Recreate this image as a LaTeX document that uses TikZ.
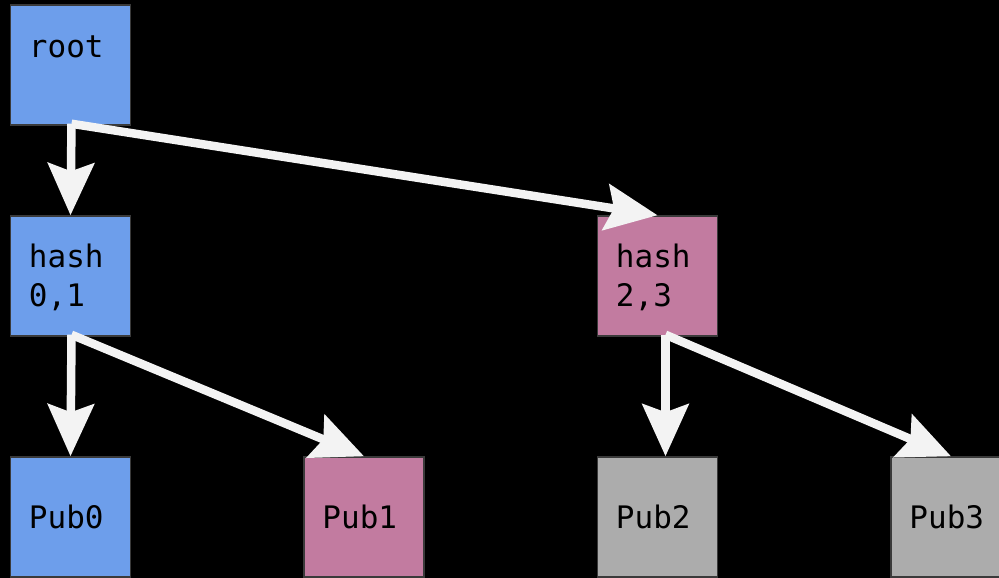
\documentclass[tikz,border=0pt]{standalone}
\usepackage{fontspec}
\setmonofont{DejaVu Sans Mono}
\usetikzlibrary{arrows.meta}
\definecolor{bblue}{HTML}{6D9EEB}
\definecolor{bpink}{HTML}{C27BA0}
\definecolor{bgray}{HTML}{ACACAC}
\definecolor{bedge}{HTML}{3A3A3A}
\definecolor{arw}{HTML}{F3F3F3}
\begin{document}
\begin{tikzpicture}[x=1pt,y=-1pt,
  box/.style={draw=bedge,line width=1.5pt,minimum width=120pt,minimum height=120pt,inner sep=0pt,rectangle},
  lbl/.style={anchor=base west,inner sep=0pt,font=\ttfamily\fontsize{31}{39}\selectfont,text=black,align=left},
  link/.style={draw=arw,line width=8.5pt,-{Stealth[length=52pt,width=46pt,inset=8pt]}}]
\fill[black] (0,0) rectangle (999,578);
\useasboundingbox (0,0) rectangle (999,578);
\node[box,fill=bblue] (root) at (70.5,65) {};
\node[box,fill=bblue] (h01) at (70.5,276) {};
\node[box,fill=bpink] (h23) at (657.5,276) {};
\node[box,fill=bblue] (p0) at (70.5,517) {};
\node[box,fill=bpink] (p1) at (364,517) {};
\node[box,fill=bgray] (p2) at (657.5,517) {};
\node[box,fill=bgray] (p3) at (951,517) {};
\node[lbl] (troot) at ([xshift=19pt,yshift=-53pt]root.north west) {root};
\node[lbl] (th01) at ([xshift=19pt,yshift=-91pt]h01.north west) {hash\\0,1};
\node[lbl] (th23) at ([xshift=19pt,yshift=-91pt]h23.north west) {hash\\2,3};
\node[lbl] (tp0) at ([xshift=19pt,yshift=-72pt]p0.north west) {Pub0};
\node[lbl] (tp1) at ([xshift=19pt,yshift=-72pt]p1.north west) {Pub1};
\node[lbl] (tp2) at ([xshift=19pt,yshift=-72pt]p2.north west) {Pub2};
\node[lbl] (tp3) at ([xshift=19pt,yshift=-72pt]p3.north west) {Pub3};
\draw[link] ([xshift=1pt,yshift=2pt]root.south) -- (h01.north);
\draw[link] ([xshift=1pt,yshift=2pt]root.south) -- (h23.north);
\draw[link] ([xshift=1pt,yshift=2pt]h01.south) -- (p0.north);
\draw[link] ([xshift=1pt,yshift=2pt]h01.south) -- (p1.north);
\draw[link] ([xshift=8pt,yshift=2pt]h23.south) -- ([xshift=8pt]p2.north);
\draw[link] ([xshift=8pt,yshift=2pt]h23.south) -- (p3.north);
\end{tikzpicture}
\end{document}
